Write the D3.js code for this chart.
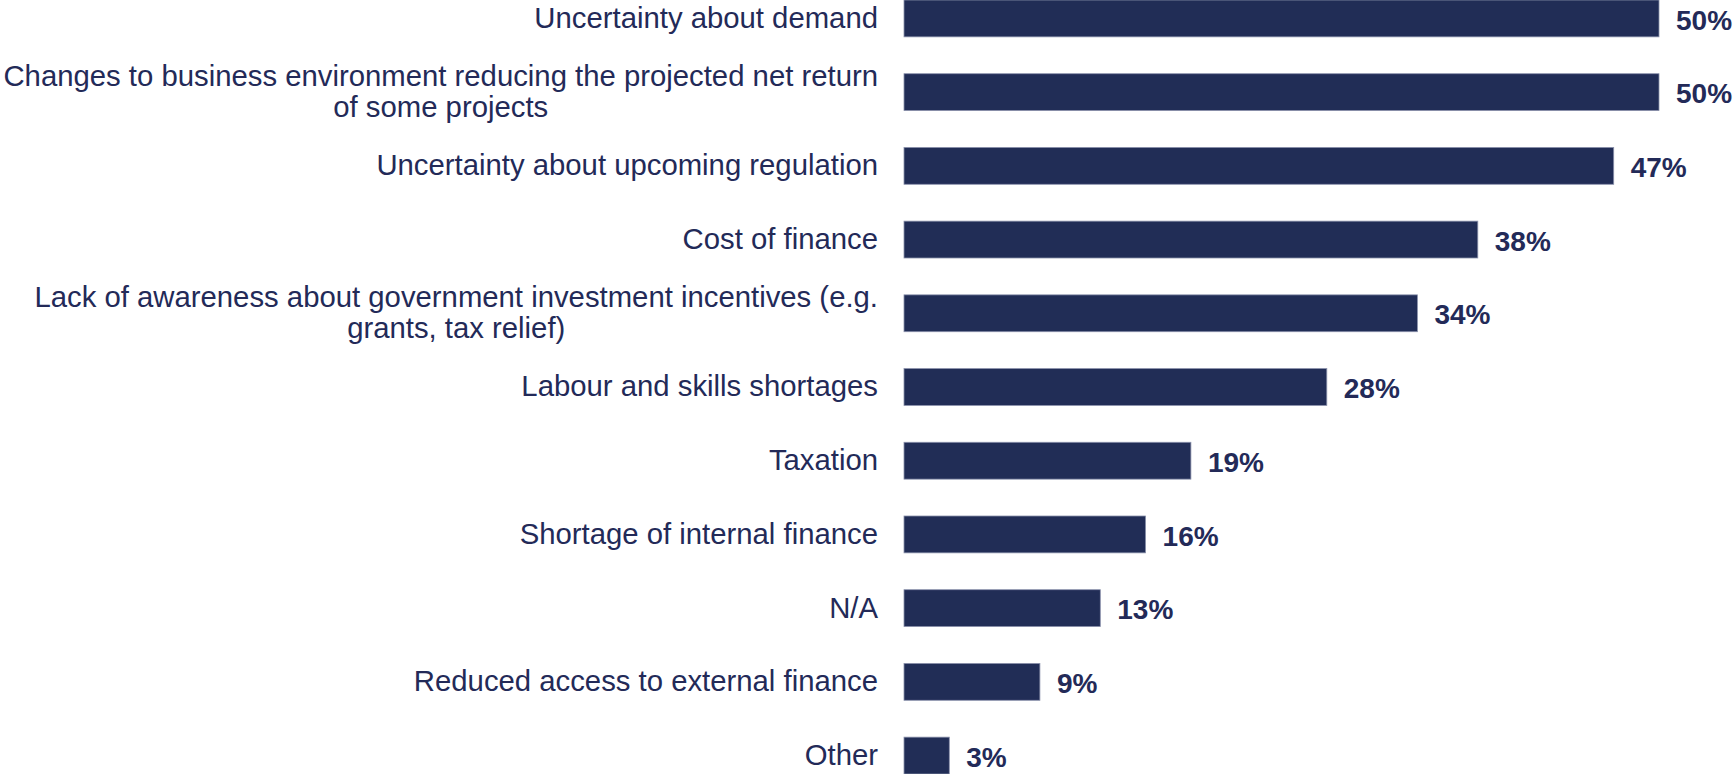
<!DOCTYPE html>
<html>
<head>
<meta charset="utf-8">
<script src="https://cdn.jsdelivr.net/npm/d3@7"></script>
<style>
  html, body { margin: 0; padding: 0; background: #ffffff; }
  svg { display: block; }
</style>
</head>
<body>
<svg id="chart" width="1734" height="774"></svg>
<script>
// Barriers to investment, share of respondents (%)
const categories = [
  "Uncertainty about demand",
  "Changes to business environment reducing the projected net return\nof some projects",
  "Uncertainty about upcoming regulation",
  "Cost of finance",
  "Lack of awareness about government investment incentives (e.g.\ngrants, tax relief)",
  "Labour and skills shortages",
  "Taxation",
  "Shortage of internal finance",
  "N/A",
  "Reduced access to external finance",
  "Other"
];
const values = [50, 50, 47, 38, 34, 28, 19, 16, 13, 9, 3];

const W = 1734, H = 774;
const barLeft = 904, barRight50 = 1659;
const ink = "#232a58";
const barFill = "#212d56";
const fontFamily = "'Liberation Sans', Arial, Helvetica, sans-serif";

const svg = d3.select("#chart");

const x = d3.scaleLinear().domain([0, 50]).range([barLeft, barRight50]);
const y = d3.scaleBand().domain(categories).range([0, H]).paddingInner(0.5).paddingOuter(0);

const data = categories.map((c, i) => ({ cat: c, value: values[i] }));

// bars
svg.append("g")
  .selectAll("rect")
  .data(data)
  .join("rect")
  .attr("x", x(0))
  .attr("y", d => y(d.cat))
  .attr("width", d => x(d.value) - x(0))
  .attr("height", y.bandwidth())
  .attr("fill", barFill)
  .attr("stroke", "#8a91ab")
  .attr("stroke-width", 0.8);

// value labels
svg.append("g")
  .selectAll("text")
  .data(data)
  .join("text")
  .attr("x", d => x(d.value) + 17)
  .attr("y", d => y(d.cat) + y.bandwidth() / 2)
  .attr("dy", "0.4em")
  .attr("fill", ink)
  .attr("font-family", fontFamily)
  .attr("font-size", 28)
  .attr("font-weight", "bold")
  .text(d => d.value + "%");

// category labels: block right-aligned to the axis, lines centred within the block
const labelRight = 878;
const lineHeight = 31;
const labels = svg.append("g")
  .attr("font-family", fontFamily)
  .attr("font-size", 29.3)
  .attr("fill", ink);

data.forEach(d => {
  const lines = d.cat.split("\n");
  const t = labels.append("text");
  const cy = y(d.cat) + y.bandwidth() / 2;
  const spans = lines.map((ln, i) =>
    t.append("tspan")
      .attr("y", cy + (i - (lines.length - 1) / 2) * lineHeight)
      .attr("dy", "0.32em")
      .text(ln));
  if (lines.length === 1) {
    t.attr("text-anchor", "end");
    spans[0].attr("x", labelRight);
  } else {
    const maxW = d3.max(spans, s => s.node().getComputedTextLength());
    t.attr("text-anchor", "middle");
    spans.forEach(s => s.attr("x", labelRight - maxW / 2));
  }
});
</script>
</body>
</html>
